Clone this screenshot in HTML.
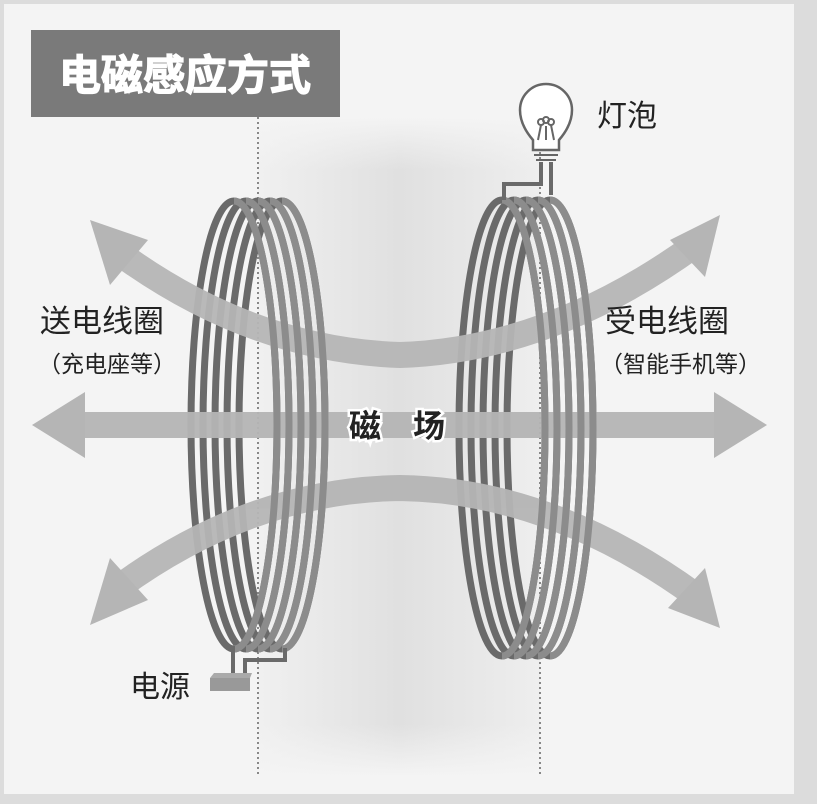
<!DOCTYPE html>
<html><head><meta charset="utf-8"><style>
html,body{margin:0;padding:0;background:#fff}
svg{display:block}
text{font-family:"Liberation Sans","Noto Sans CJK SC",sans-serif}
</style></head><body>
<svg width="817" height="804" viewBox="0 0 817 804" xmlns="http://www.w3.org/2000/svg">
<defs>
<linearGradient id="band" x1="0" x2="1" y1="0" y2="0">
<stop offset="0" stop-color="#f0f0f0"/><stop offset="0.5" stop-color="#e0e0e0"/><stop offset="1" stop-color="#eeeeee"/>
</linearGradient>
<linearGradient id="bandv" x1="0" x2="0" y1="0" y2="1">
<stop offset="0" stop-color="#f4f4f4" stop-opacity="1"/><stop offset="0.08" stop-color="#f4f4f4" stop-opacity="0"/>
<stop offset="0.92" stop-color="#f4f4f4" stop-opacity="0"/><stop offset="1" stop-color="#f4f4f4" stop-opacity="1"/>
</linearGradient>
</defs>
<rect width="817" height="804" fill="#dcdcdc"/>
<rect x="4" y="4" width="790" height="790" fill="#f4f4f4"/>
<rect x="258" y="117" width="282" height="660" fill="url(#band)"/>
<rect x="258" y="117" width="282" height="660" fill="url(#bandv)"/>
<line x1="258" y1="117" x2="258" y2="775" stroke="#888" stroke-width="2" stroke-dasharray="2,3"/>
<line x1="540" y1="117" x2="540" y2="775" stroke="#888" stroke-width="2" stroke-dasharray="2,3"/>
<rect x="31" y="30" width="309" height="87" fill="#7a7a7a"/>
<text x="185" y="90" text-anchor="middle" font-size="42" font-weight="bold" fill="#fff" stroke="#fff" stroke-width="1.2">电磁感应方式</text>
<g fill="none" stroke="#6a6a6a" stroke-width="7">
<ellipse cx="234" cy="425" rx="43" ry="224"/>
<ellipse cx="246" cy="425" rx="43" ry="224"/>
<ellipse cx="258" cy="425" rx="43" ry="224"/>
<ellipse cx="270" cy="425" rx="43" ry="224"/>
<ellipse cx="282" cy="425" rx="43" ry="224"/>
<ellipse cx="502" cy="428" rx="43" ry="228"/>
<ellipse cx="514" cy="428" rx="43" ry="228"/>
<ellipse cx="526" cy="428" rx="43" ry="228"/>
<ellipse cx="538" cy="428" rx="43" ry="228"/>
<ellipse cx="550" cy="428" rx="43" ry="228"/>
</g>
<g fill="none" stroke="#b5b5b5" stroke-width="26" opacity="0.95">
<line x1="70" y1="425" x2="730" y2="425"/>
<path d="M115 250 Q250 350 400 355 Q550 350 695 245"/>
<path d="M115 590 Q250 490 400 488 Q550 490 695 595"/>
</g>
<g fill="#b5b5b5">
<polygon points="32,425 85,392 85,458"/>
<polygon points="767,425 714,392 714,458"/>
<polygon points="90,220 148,240 110,285"/>
<polygon points="720,215 705,277 670,240"/>
<polygon points="90,625 110,558 148,600"/>
<polygon points="720,628 668,608 705,568"/>
</g>
<g fill="none" stroke="#8c8c8c" stroke-width="7">
<path d="M234 201 A43 224 0 0 1 234 649"/>
<path d="M246 201 A43 224 0 0 1 246 649"/>
<path d="M258 201 A43 224 0 0 1 258 649"/>
<path d="M270 201 A43 224 0 0 1 270 649"/>
<path d="M282 201 A43 224 0 0 1 282 649"/>
<path d="M502 200 A43 228 0 0 1 502 656"/>
<path d="M514 200 A43 228 0 0 1 514 656"/>
<path d="M526 200 A43 228 0 0 1 526 656"/>
<path d="M538 200 A43 228 0 0 1 538 656"/>
<path d="M550 200 A43 228 0 0 1 550 656"/>
</g>
<g fill="none" stroke="#6a6a6a" stroke-width="4">
<polyline points="233,646 233,678"/>
<polyline points="245,676 245,660 285,660 285,648"/>
</g>
<polygon points="210,678 214,673 252,673 250,678" fill="#aaa"/>
<rect x="210" y="678" width="40" height="13" fill="#999"/>
<g fill="none" stroke="#6a6a6a" stroke-width="4">
<polyline points="504,200 504,184 541,184 541,162"/>
<polyline points="551,162 551,195"/>
</g>
<g fill="#fff" stroke="#666" stroke-width="2.5">
<path d="M533 150 L533 140 Q520 125 520 110 A26 26 0 1 1 572 110 Q572 125 559 140 L559 150 Z"/>
</g>
<g fill="none" stroke="#666" stroke-width="2">
<path d="M538 140 L541 125 M554 140 L551 125 M546 140 L546 126"/>
<circle cx="541" cy="122" r="3"/><circle cx="546" cy="120" r="3"/><circle cx="551" cy="122" r="3"/>
<line x1="534" y1="150" x2="558" y2="150"/><line x1="534" y1="155" x2="558" y2="155"/><line x1="536" y1="160" x2="556" y2="160"/>
</g>
<text x="597" y="126" font-size="30" fill="#222">灯泡</text>
<text x="40" y="332" font-size="31" fill="#222">送电线圈</text>
<text x="38" y="372" font-size="23" fill="#222">（充电座等）</text>
<text x="605" y="332" font-size="31" fill="#222">受电线圈</text>
<text x="600" y="372" font-size="23" fill="#222">（智能手机等）</text>
<text x="130" y="697" font-size="30" fill="#222">电源</text>
<text x="397" y="437" text-anchor="middle" font-size="32" font-weight="bold" fill="#222" stroke="#fff" stroke-width="5" paint-order="stroke">磁　场</text>
</svg>
</body></html>
